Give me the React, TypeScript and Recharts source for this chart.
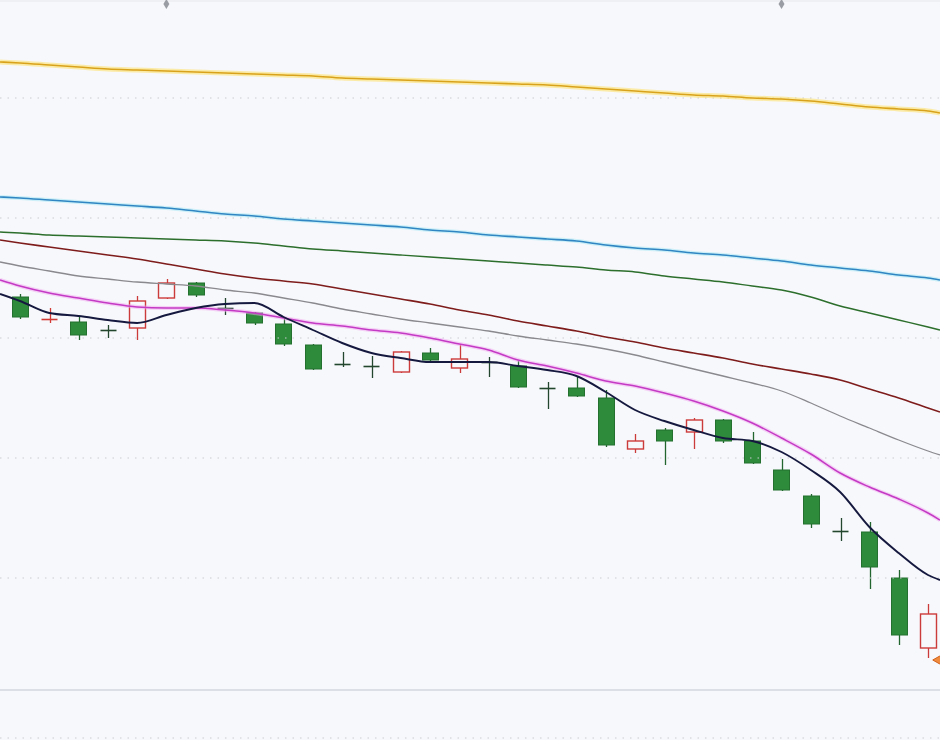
import { ComposedChart, Bar, Line, XAxis, YAxis, ReferenceLine, ReferenceDot } from "recharts";

// candles, left to right (price units)
const OPEN = [44.3, 42.15, 41.8, 40.95, 41.2, 44.2, 45.7, 43.25, 42.7, 41.6, 39.5, 37.6, 37.35, 36.8, 38.7, 37.2,
  37.85, 37.4, 35.25, 35.2, 34.2, 29.1, 31.0, 30.8, 32.0, 29.9, 27.0, 24.4, 20.95, 20.8, 16.2, 9.2];
const CLOSE = [42.3, 42.2, 40.5, 40.9, 43.9, 45.7, 44.5, 43.2, 41.7, 39.6, 37.1, 37.55, 37.3, 38.8, 38.0, 38.1,
  37.8, 35.3, 35.2, 34.4, 29.5, 29.9, 29.9, 32.0, 29.9, 27.7, 25.0, 21.6, 20.9, 17.3, 10.5, 12.6];
const HIGH = [44.6, 43.2, 42.4, 41.5, 44.4, 46.1, 45.8, 44.2, 42.8, 42.3, 39.6, 38.8, 38.4, 38.9, 39.2, 39.5,
  38.3, 37.9, 35.8, 36.3, 35.0, 30.6, 31.2, 32.2, 32.1, 30.8, 28.1, 24.6, 22.2, 21.8, 17.0, 13.6];
const LOW = [42.1, 41.7, 40.0, 40.2, 40.0, 44.1, 44.3, 42.5, 41.5, 39.4, 37.0, 37.3, 36.2, 36.7, 37.9, 36.7,
  36.3, 35.2, 33.1, 34.3, 29.3, 28.7, 27.5, 29.1, 29.7, 27.6, 24.9, 21.2, 19.9, 15.1, 9.5, 8.2];

// moving averages: first and last entries sit on the chart edges
const EDGE_START = -0.68;
const EDGE_END = 31.41;
const MA_NAVY = [44.6, 43.9, 42.7, 42.4, 42.0, 41.7, 42.5, 43.2, 43.6, 43.7, 42.3, 41.0, 39.7, 38.7, 38.2, 37.8, 37.8,
  37.8, 37.4, 37.0, 36.4, 34.8, 33.0, 31.9, 31.0, 30.2, 29.9, 28.8, 27.0, 24.8, 21.3, 18.7, 16.5, 16.0];
const MA_MAGENTA = [46.0, 45.4, 44.7, 44.2, 43.7, 43.3, 43.2, 43.2, 43.0, 42.7, 42.2, 41.7, 41.4, 41.0, 40.7, 40.2, 39.6,
  39.0, 38.0, 37.4, 36.7, 35.9, 35.4, 34.7, 33.9, 32.9, 31.7, 30.2, 28.6, 26.7, 25.3, 24.1, 22.7, 22.0];
const MA_GRAY = [47.8, 47.4, 46.9, 46.4, 46.1, 45.8, 45.6, 45.4, 45.0, 44.7, 44.2, 43.7, 43.1, 42.6, 42.1, 41.7, 41.3,
  40.9, 40.4, 40.0, 39.6, 39.1, 38.5, 37.8, 37.1, 36.4, 35.7, 34.9, 33.7, 32.4, 31.2, 30.0, 28.9, 28.5];
const MA_DARKRED = [50.0, 49.7, 49.3, 48.9, 48.5, 48.1, 47.6, 47.1, 46.6, 46.2, 45.9, 45.6, 45.1, 44.6, 44.1, 43.6, 43.0,
  42.5, 41.9, 41.4, 40.9, 40.3, 39.8, 39.2, 38.7, 38.2, 37.6, 37.1, 36.6, 36.0, 35.1, 34.2, 33.2, 32.8];
const MA_GREEN = [50.8, 50.7, 50.5, 50.4, 50.3, 50.2, 50.1, 50.0, 49.9, 49.7, 49.4, 49.1, 48.9, 48.7, 48.5, 48.3, 48.1,
  47.9, 47.7, 47.5, 47.3, 47.0, 46.8, 46.4, 46.1, 45.8, 45.4, 45.0, 44.3, 43.4, 42.7, 42.0, 41.3, 41.0];
const MA_BLUE = [54.3, 54.2, 54.0, 53.8, 53.6, 53.4, 53.2, 52.9, 52.6, 52.4, 52.1, 51.9, 51.7, 51.5, 51.3, 51.0, 50.8,
  50.5, 50.3, 50.1, 49.9, 49.5, 49.2, 49.0, 48.7, 48.5, 48.2, 47.9, 47.5, 47.2, 46.9, 46.5, 46.2, 46.0];
const MA_ORANGE = [67.8, 67.7, 67.5, 67.3, 67.1, 67.0, 66.9, 66.8, 66.7, 66.6, 66.5, 66.4, 66.2, 66.1, 66.0, 65.9, 65.8,
  65.7, 65.6, 65.5, 65.3, 65.1, 64.9, 64.7, 64.5, 64.4, 64.2, 64.1, 63.9, 63.6, 63.3, 63.1, 62.9, 62.7];

const GRID_LEVELS = [64.2, 52.2, 40.2, 28.2, 16.2, 0.2];
const PANEL_SPLIT = 5.0;
const TOP_MARKS = [5, 26];
const LOW_MARK = { x: 31.3, y: 8.0 };

const BG = "#f7f8fb";
const CANDLE_W = 17;

const data = MA_NAVY.map((_, i) => {
  const c = i - 1;
  const isCandle = c >= 0 && c < OPEN.length;
  return {
    x: i === 0 ? EDGE_START : i === MA_NAVY.length - 1 ? EDGE_END : c,
    navy: MA_NAVY[i],
    magenta: MA_MAGENTA[i],
    gray: MA_GRAY[i],
    darkred: MA_DARKRED[i],
    green: MA_GREEN[i],
    blue: MA_BLUE[i],
    orange: MA_ORANGE[i],
    open: isCandle ? OPEN[c] : null,
    close: isCandle ? CLOSE[c] : null,
    high: isCandle ? HIGH[c] : null,
    low: isCandle ? LOW[c] : null,
  };
});

function Candle(props: any) {
  const { x, y, width, height, payload } = props;
  if (!payload || payload.open == null) return null;
  const { open, close, high, low } = payload;
  const top = Math.min(y, y + height);
  const bottom = Math.max(y, y + height);
  const k = high === low ? 0 : (bottom - top) / (high - low);
  const py = (v: number) => top + (high - v) * k;
  // the bar's own width is squeezed by the edge points, so use a fixed one around its centre
  const mid = x + width / 2;
  const cx = Math.round(mid) + 0.5;
  const left = Math.round(mid - CANDLE_W / 2) + 0.5;
  const w = CANDLE_W - 1;
  const up = close >= open;
  const doji = Math.abs(close - open) < 0.15;

  if (doji) {
    const col = up ? "#d23a36" : "#23472e";
    const yy = Math.round(py(open)) + 0.5;
    return (
      <g>
        <line x1={cx} x2={cx} y1={py(high)} y2={py(low)} stroke={col} strokeWidth={1.3} />
        <line x1={left} x2={left + w} y1={yy} y2={yy} stroke={col} strokeWidth={1.6} />
      </g>
    );
  }
  const bTop = py(Math.max(open, close));
  const bBot = py(Math.min(open, close));
  if (up) {
    return (
      <g>
        <line x1={cx} x2={cx} y1={py(high)} y2={py(low)} stroke="#cc3b3b" strokeWidth={1.3} />
        <rect x={left} y={bTop} width={w} height={bBot - bTop} fill={BG} stroke="#cc3b3b" strokeWidth={1.4} />
      </g>
    );
  }
  return (
    <g>
      <line x1={cx} x2={cx} y1={py(high)} y2={py(low)} stroke="#23652f" strokeWidth={1.3} />
      <rect x={left} y={bTop} width={w} height={bBot - bTop} fill="#2e8b3b" stroke="#23702f" strokeWidth={1} />
    </g>
  );
}

function Diamond(props: any) {
  const { cx, cy } = props;
  return <path d={`M${cx},${cy - 5} L${cx + 3},${cy} L${cx},${cy + 5} L${cx - 3},${cy} Z`} fill="#9a9da4" />;
}

function LowArrow(props: any) {
  const { cx, cy } = props;
  return (
    <path
      d={`M${cx - 4},${cy} L${cx + 3},${cy - 4} L${cx + 6},${cy} L${cx + 3},${cy + 4} Z`}
      fill="#f08a3c"
      stroke="#d0601c"
      strokeWidth={1}
    />
  );
}

const lineProps = { type: "monotone" as const, dot: false, activeDot: false, isAnimationActive: false };

export default function App() {
  return (
    <div style={{ position: "fixed", left: 0, top: 0, width: 940, height: 740, background: BG, overflow: "hidden" }}>
      <ComposedChart width={940} height={740} data={data} margin={{ top: 0, right: 0, bottom: 0, left: 0 }}>
        <XAxis dataKey="x" type="number" domain={[EDGE_START, EDGE_END]} hide allowDataOverflow />
        <YAxis type="number" domain={[0, 74]} hide allowDataOverflow />
        {GRID_LEVELS.map((v) => (
          <ReferenceLine key={v} y={v} stroke="#c9ccd3" strokeDasharray="1.5 6" strokeWidth={1.2} />
        ))}
        <ReferenceLine y={PANEL_SPLIT} stroke="#dcdfe5" strokeWidth={2} />
        <ReferenceLine y={73.9} stroke="#e6e8ec" strokeWidth={1} />
        <Line {...lineProps} dataKey="orange" stroke="#ffe066" strokeOpacity={0.55} strokeWidth={5} />
        <Line {...lineProps} dataKey="orange" stroke="#d9a21b" strokeWidth={1.6} />
        <Line {...lineProps} dataKey="blue" stroke="#8fe3f5" strokeOpacity={0.4} strokeWidth={4} />
        <Line {...lineProps} dataKey="blue" stroke="#2f86c2" strokeWidth={1.6} />
        <Line {...lineProps} dataKey="green" stroke="#2c6e2c" strokeWidth={1.5} />
        <Line {...lineProps} dataKey="darkred" stroke="#7e1c1c" strokeWidth={1.6} />
        <Line {...lineProps} dataKey="gray" stroke="#8a8a8e" strokeWidth={1.3} />
        <Line {...lineProps} dataKey="magenta" stroke="#f2a6f2" strokeOpacity={0.5} strokeWidth={4} />
        <Line {...lineProps} dataKey="magenta" stroke="#c43ac4" strokeWidth={1.5} />
        <Bar
          dataKey={(d: any) => (d.high == null ? null : [d.low, d.high])}
          barSize={17}
          shape={<Candle />}
          activeBar={false}
          isAnimationActive={false}
        />
        <Line {...lineProps} dataKey="navy" stroke="#16193f" strokeWidth={1.9} />
        {TOP_MARKS.map((i) => (
          <ReferenceDot key={i} x={i} y={73.6} r={4} shape={<Diamond />} />
        ))}
        <ReferenceDot x={LOW_MARK.x} y={LOW_MARK.y} r={4} shape={<LowArrow />} />
      </ComposedChart>
    </div>
  );
}
